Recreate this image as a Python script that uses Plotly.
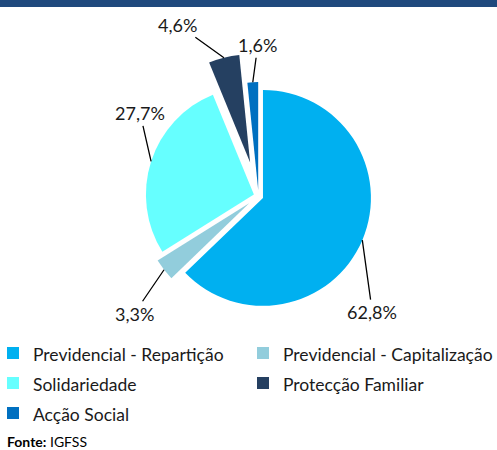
import math
import plotly.graph_objects as go

# ---- data ----
categories = ["Previdencial - Repartição", "Previdencial - Capitalização",
              "Solidariedade", "Protecção Familiar", "Acção Social"]
values = [62.8, 3.3, 27.7, 4.6, 1.6]

# ---- style ----
colors = ["#00B0F0", "#92CDDC", "#66FFFF", "#254061", "#0070C0"]
pulls = [0.045, 0.11, 0.045, 0.32, 0.055]
label_offsets = [(10, 72), (-30, 44), (-11, -48), (-46, -33), (5, -37)]  # px offsets of value labels
W, H = 497, 450
dom_x = [116 / W, 401 / W]
dom_y = [1 - 338.5 / H, 1 - 53.5 / H]
FONT = "Lato"

legend_labels = [f'<span style="font-size:17.5px">{c}</span>' for c in categories]

fig = go.Figure(go.Pie(
    labels=legend_labels,
    values=values,
    sort=False,
    direction="clockwise",
    rotation=0,
    pull=pulls,
    marker=dict(colors=colors, line=dict(width=0)),
    textinfo="none",
    hoverinfo="label+percent",
    domain=dict(x=dom_x, y=dom_y),
))

# value labels with leader lines, attached at the mid-angle of each slice
cx = (dom_x[0] + dom_x[1]) / 2 * W
cy = (1 - (dom_y[0] + dom_y[1]) / 2) * H
R = min((dom_x[1] - dom_x[0]) * W, (dom_y[1] - dom_y[0]) * H) / (2 * (1 + max(pulls)))
total = sum(values)
cum = 0.0
for v, p, (ax, ay) in zip(values, pulls, label_offsets):
    mid = (cum + v / 2) / total * 2 * math.pi
    cum += v
    d = R * (1 + p)
    px = cx + d * math.sin(mid)
    py = cy - d * math.cos(mid)
    fig.add_annotation(
        x=px / W, y=1 - py / H, xref="paper", yref="paper",
        text=f"{v:.1f}".replace(".", ",") + "%",
        showarrow=True, arrowhead=0, arrowwidth=1.3, arrowcolor="#000000",
        standoff=0, startstandoff=0, ax=ax, ay=ay,
        font=dict(family=FONT, size=18, color="#1a1a1a"),
    )

fig.add_annotation(
    x=5 / W, y=1 - 441 / H, xref="paper", yref="paper",
    xanchor="left", yanchor="middle", showarrow=False,
    text="<b>Fonte:</b> IGFSS",
    font=dict(family=FONT, size=14, color="#000000"),
)

fig.add_shape(type="rect", xref="paper", yref="paper",
              x0=0, x1=1, y0=1 - 7 / H, y1=1,
              fillcolor="#1F497D", line=dict(width=0))

fig.update_layout(
    width=W, height=H,
    margin=dict(l=0, r=0, t=0, b=0, autoexpand=False),
    paper_bgcolor="white", plot_bgcolor="white",
    font=dict(family=FONT, color="#1a1a1a"),
    showlegend=True,
    legend=dict(
        orientation="h", x=0, xanchor="left", y=1 - 333 / H, yanchor="top",
        entrywidth=212, entrywidthmode="pixels", indentation=-7,
        font=dict(family=FONT, size=20.77, color="#1a1a1a"),
        bgcolor="rgba(0,0,0,0)", borderwidth=0,
    ),
)

fig.write_html("out.html", config={"displayModeBar": False},
               post_script="document.body.style.margin='0px';")
